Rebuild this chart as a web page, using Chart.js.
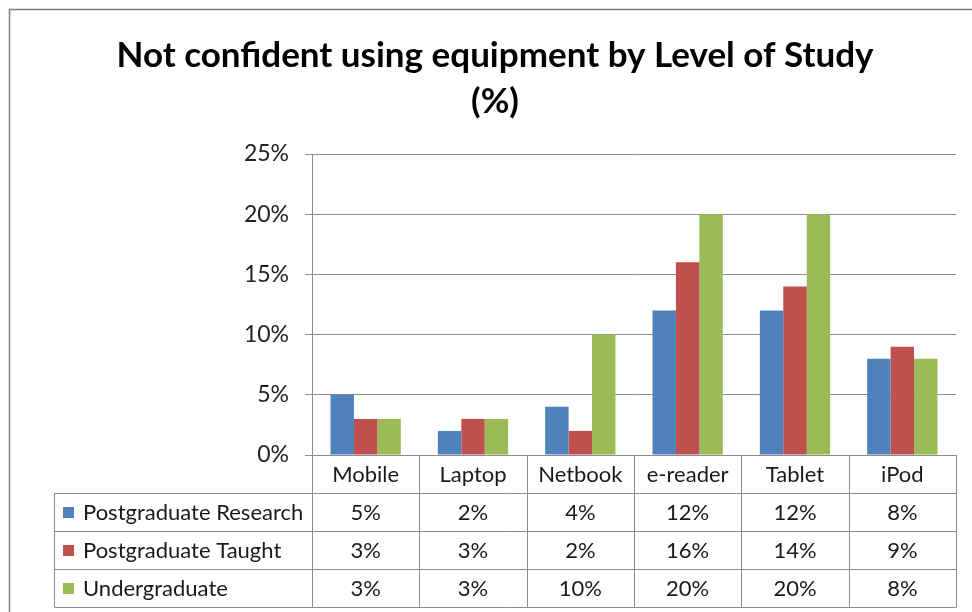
<!DOCTYPE html>
<html lang="en">
<head>
<meta charset="UTF-8">
<title>Not confident using equipment by Level of Study</title>
<script src="https://cdn.jsdelivr.net/npm/chart.js"></script>
<style>
  body { margin: 0; background: white; }
</style>
</head>
<body>
<canvas id="chart" width="972" height="612"></canvas>
<script>
const categories = ['Mobile', 'Laptop', 'Netbook', 'e-reader', 'Tablet', 'iPod'];
const seriesNames = ['Postgraduate Research', 'Postgraduate Taught', 'Undergraduate'];
const postgradResearch = [5, 2, 4, 12, 12, 8];
const postgradTaught = [3, 3, 2, 16, 14, 9];
const undergraduate = [3, 3, 10, 20, 20, 8];
const seriesColors = ['#4F81BD', '#C0504D', '#9BBB59'];
const yMax = 25;
const yStep = 5;

const lineColor = '#8c8c8c';
const textFont = 'Lato, "Liberation Sans", sans-serif';

// data table under the plot, drawn against the x scale's categories
const dataTable = {
  id: 'dataTable',
  beforeDraw(chart) {
    const ctx = chart.ctx;
    ctx.save();
    ctx.strokeStyle = '#7f7f7f';
    ctx.lineWidth = 1.5;
    ctx.beginPath();
    ctx.moveTo(9.5, 612);
    ctx.lineTo(9.5, 9.5);
    ctx.lineTo(972, 9.5);
    ctx.stroke();
    ctx.restore();
  },
  afterDraw(chart) {
    const ctx = chart.ctx;
    const area = chart.chartArea;
    const x = chart.scales.x;
    const n = categories.length;
    const colW = (area.right - area.left) / n;
    const rowH = 38;
    const top = area.bottom;
    const tableLeft = 54;
    const rows = [postgradResearch, postgradTaught, undergraduate];

    ctx.save();
    ctx.strokeStyle = lineColor;
    ctx.lineWidth = 1;
    ctx.beginPath();
    for (let i = 0; i <= n; i++) {
      const px = Math.round(area.left + i * colW) + 0.5;
      ctx.moveTo(px, top);
      ctx.lineTo(px, top + rowH * 4);
    }
    for (let r = 1; r <= 4; r++) {
      const py = Math.round(top + r * rowH) + 0.5;
      ctx.moveTo(tableLeft + 0.5, py);
      ctx.lineTo(area.right + 0.5, py);
    }
    ctx.moveTo(area.left, top + 0.5);
    ctx.lineTo(area.right + 0.5, top + 0.5);
    ctx.moveTo(tableLeft + 0.5, top + rowH);
    ctx.lineTo(tableLeft + 0.5, top + rowH * 4);
    ctx.stroke();

    ctx.fillStyle = '#1a1a1a';
    ctx.font = '22px ' + textFont;
    ctx.textBaseline = 'middle';
    ctx.textAlign = 'center';
    categories.forEach((c, i) => {
      ctx.fillText(c, x.getPixelForValue(i), top + rowH / 2 + 1);
    });
    rows.forEach((vals, r) => {
      const cy = top + rowH * (r + 1) + rowH / 2 + 1;
      ctx.fillStyle = seriesColors[r];
      ctx.fillRect(63, Math.round(cy - 6), 11, 11);
      ctx.fillStyle = '#1a1a1a';
      ctx.textAlign = 'left';
      ctx.fillText(seriesNames[r], 83, cy);
      ctx.textAlign = 'center';
      vals.forEach((v, i) => {
        ctx.fillText(v + '%', x.getPixelForValue(i), cy);
      });
    });
    ctx.restore();
  }
};

new Chart(document.getElementById('chart'), {
  type: 'bar',
  data: {
    labels: categories,
    datasets: [
      { label: seriesNames[0], data: postgradResearch, backgroundColor: seriesColors[0] },
      { label: seriesNames[1], data: postgradTaught, backgroundColor: seriesColors[1] },
      { label: seriesNames[2], data: undergraduate, backgroundColor: seriesColors[2] }
    ]
  },
  options: {
    responsive: false,
    animation: false,
    devicePixelRatio: 1,
    layout: { padding: { left: 34, top: 10, right: 16, bottom: 157 } },
    datasets: { bar: { barPercentage: 1, categoryPercentage: 0.655 } },
    plugins: {
      legend: { display: false },
      tooltip: { enabled: false },
      title: {
        display: true,
        text: ['Not confident using equipment by Level of Study', '(%)'],
        color: '#000',
        font: { family: textFont, size: 35, weight: 'bold', lineHeight: 1.3 },
        padding: { top: 23, bottom: 30 }
      }
    },
    scales: {
      x: {
        grid: { display: false },
        border: { display: false },
        ticks: { display: false },
        afterFit(s) { s.height = 0; }
      },
      y: {
        min: 0,
        max: yMax,
        ticks: {
          stepSize: yStep,
          color: '#222',
          font: { family: textFont, size: 23 },
          padding: 16,
          callback: v => v + '%'
        },
        grid: { color: lineColor, tickLength: 7 },
        border: { color: lineColor },
        afterFit(s) { s.width = 278; }
      }
    }
  },
  plugins: [dataTable]
});
</script>
</body>
</html>
